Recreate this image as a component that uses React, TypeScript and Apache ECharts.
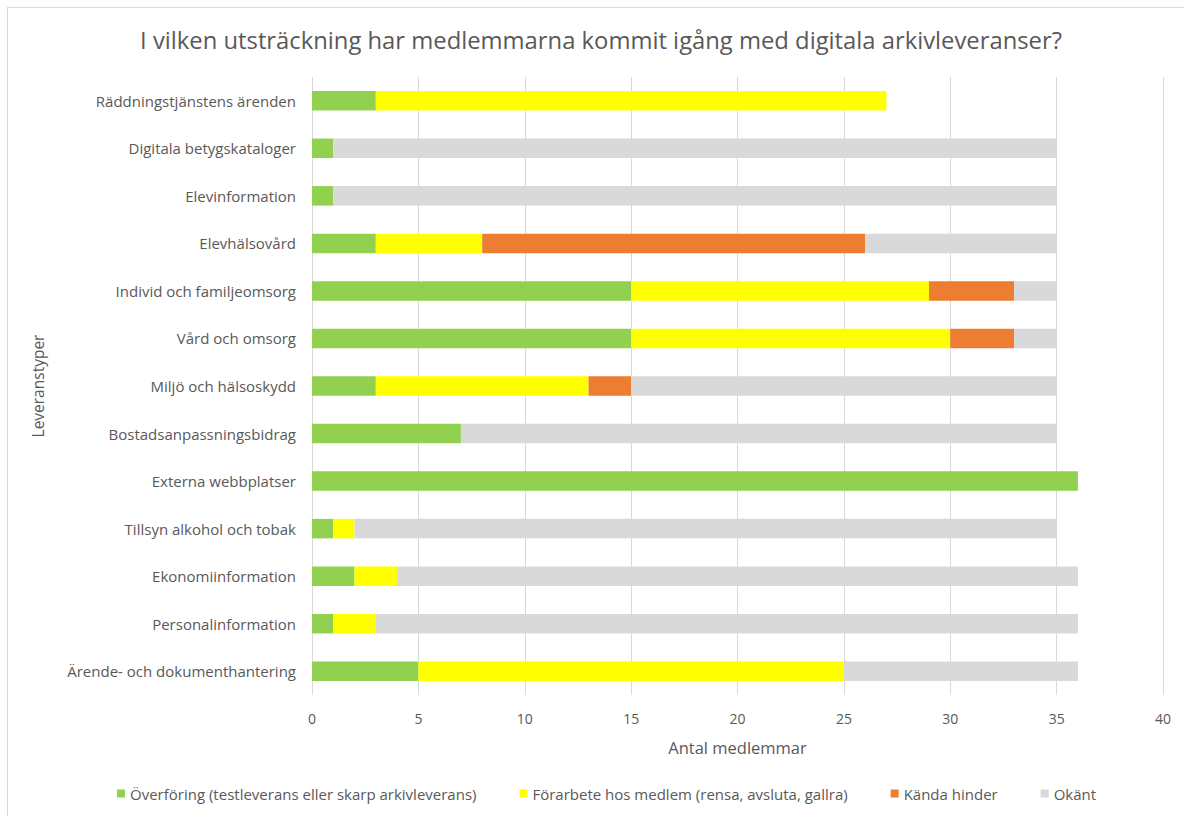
import React, { useEffect, useRef } from "react";
import * as echarts from "echarts";

const categories = [
  "Räddningstjänstens ärenden",
  "Digitala betygskataloger",
  "Elevinformation",
  "Elevhälsovård",
  "Individ och familjeomsorg",
  "Vård och omsorg",
  "Miljö och hälsoskydd",
  "Bostadsanpassningsbidrag",
  "Externa webbplatser",
  "Tillsyn alkohol och tobak",
  "Ekonomiinformation",
  "Personalinformation",
  "Ärende- och dokumenthantering",
];

const overforing = [3, 1, 1, 3, 15, 15, 3, 7, 36, 1, 2, 1, 5];
const forarbete = [24, 0, 0, 5, 14, 15, 10, 0, 0, 1, 2, 2, 20];
const kandaHinder = [0, 0, 0, 18, 4, 3, 2, 0, 0, 0, 0, 0, 0];
const okant = [0, 34, 34, 9, 2, 2, 20, 28, 0, 33, 32, 33, 11];

const seriesNames = [
  "Överföring (testleverans eller skarp arkivleverans)",
  "Förarbete hos medlem (rensa, avsluta, gallra)",
  "Kända hinder",
  "Okänt",
];
const seriesColors = ["#92D050", "#FFFF00", "#ED7D31", "#D9D9D9"];
const seriesData = [overforing, forarbete, kandaHinder, okant];

const FONT = "'Open Sans', 'Noto Sans', sans-serif";
const TXT = "#595959";

export default function App() {
  const ref = useRef<HTMLDivElement>(null);
  useEffect(() => {
    if (!ref.current) return;
    const chart = echarts.init(ref.current, null, { renderer: "svg" });
    chart.setOption({
      animation: false,
      backgroundColor: "#ffffff",
      textStyle: { fontFamily: FONT },
      title: {
        text: "I vilken utsträckning har medlemmarna kommit igång med digitala arkivleveranser?",
        left: 596,
        top: 23,
        textAlign: "center",
        textStyle: { fontFamily: FONT, fontSize: 23.8, fontWeight: "normal", color: TXT },
      },
      graphic: [
        { type: "line", shape: { x1: 7.5, y1: 7, x2: 7.5, y2: 816 }, style: { stroke: "#D9D9D9", lineWidth: 1 } },
        { type: "line", shape: { x1: 7, y1: 7.5, x2: 1184, y2: 7.5 }, style: { stroke: "#D9D9D9", lineWidth: 1 } },
      ],
      legend: {
        bottom: 10,
        left: 112,
        itemWidth: 8,
        itemHeight: 8,
        itemGap: 43,
        icon: "rect",
        textStyle: { fontFamily: FONT, fontSize: 15, color: TXT, padding: [0, 0, 0, 0] },
        data: seriesNames,
      },
      grid: { left: 312, right: 21, top: 77, bottom: 121 },
      xAxis: {
        type: "value",
        min: 0,
        max: 40,
        interval: 5,
        name: "Antal medlemmar",
        nameLocation: "middle",
        nameGap: 44,
        nameTextStyle: { fontFamily: FONT, fontSize: 16.5, color: TXT },
        axisLine: { show: false },
        axisTick: { show: false },
        axisLabel: { fontFamily: FONT, fontSize: 14, color: TXT, margin: 16 },
        splitLine: { show: true, lineStyle: { color: "#D9D9D9", width: 1 } },
      },
      yAxis: {
        type: "category",
        inverse: true,
        data: categories,
        name: "Leveranstyper",
        nameLocation: "middle",
        nameGap: 266,
        nameRotate: 90,
        nameTextStyle: { fontFamily: FONT, fontSize: 15.5, color: TXT },
        axisLine: { show: false },
        axisTick: { show: false },
        axisLabel: { fontFamily: FONT, fontSize: 15, color: TXT, margin: 16 },
      },
      series: seriesNames.map((name, i) => ({
        name,
        type: "bar",
        stack: "total",
        data: seriesData[i],
        barCategoryGap: "59%",
        itemStyle: { color: seriesColors[i] },
      })),
    });
    return () => chart.dispose();
  }, []);
  return (
    <div
      ref={ref}
      style={{ position: "fixed", left: 0, top: 0, width: 1184, height: 816 }}
    />
  );
}
